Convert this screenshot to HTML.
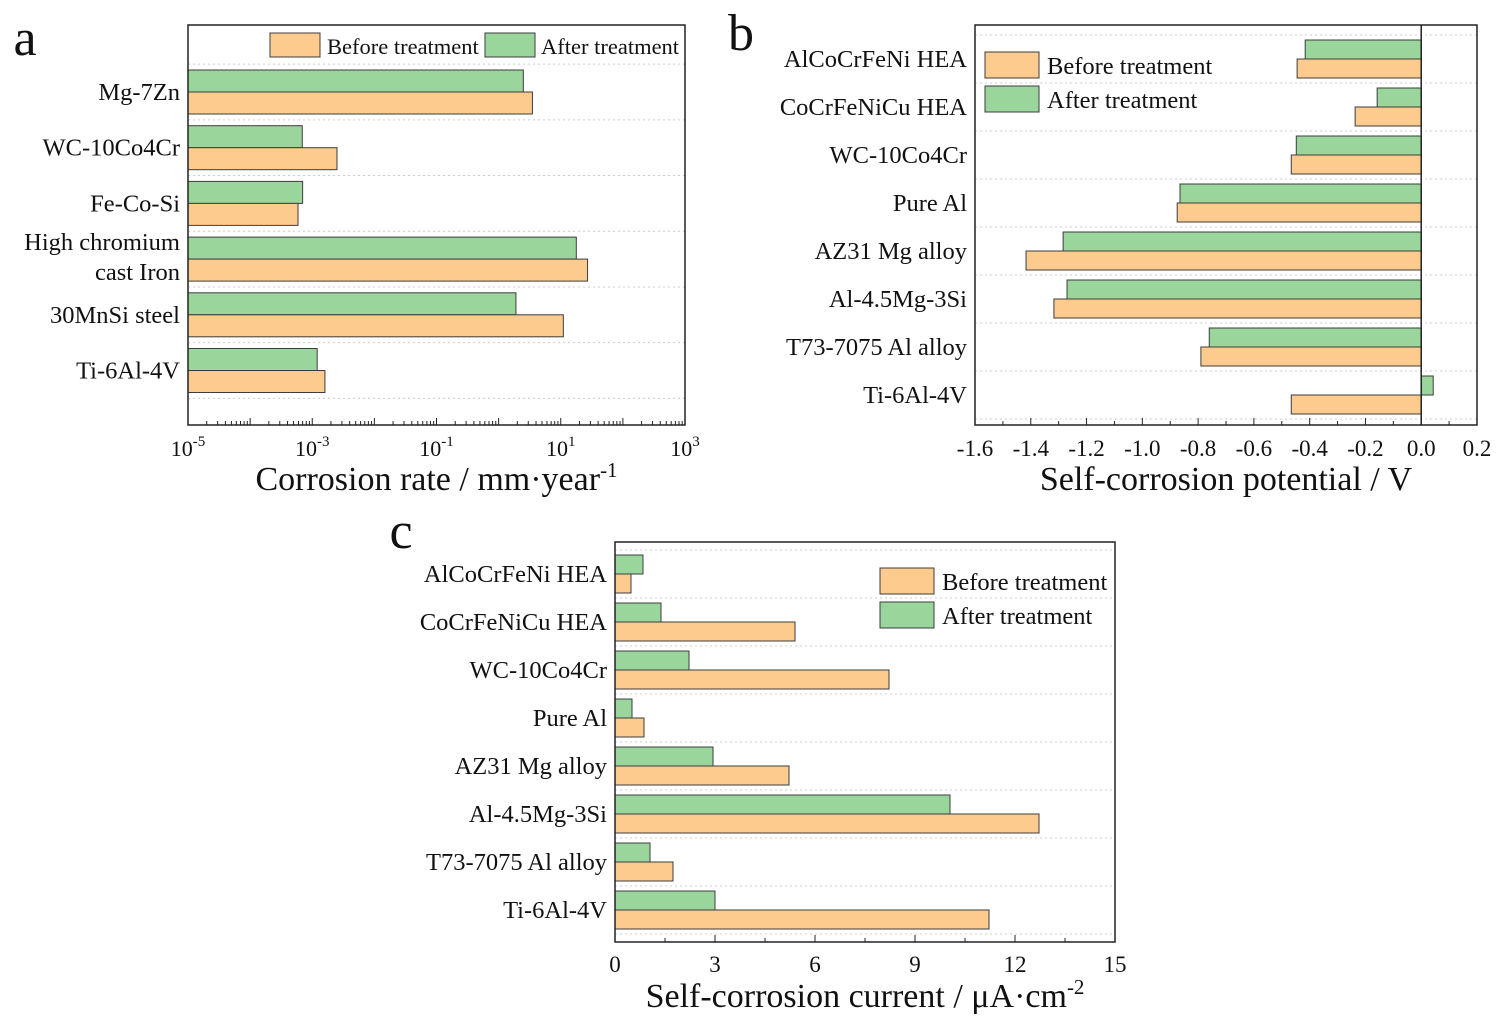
<!DOCTYPE html>
<html><head><meta charset="utf-8">
<style>
html,body{margin:0;padding:0;background:#fff;}
svg{display:block;font-family:"Liberation Serif",serif;}
</style></head>
<body>
<svg id="fig" width="1501" height="1021" viewBox="0 0 1501 1021" xmlns="http://www.w3.org/2000/svg"></svg>
<script>
// ---------- data ----------
const catsA = ["Mg-7Zn","WC-10Co4Cr","Fe-Co-Si","High chromium|cast Iron","30MnSi steel","Ti-6Al-4V"];
const beforeA = [3.5, 0.0025, 0.00059, 27, 11, 0.0016];
const afterA = [2.5, 0.00069, 0.0007, 17.8, 1.9, 0.0012];
const ticksA = [-5,-3,-1,1,3];

const catsB = ["AlCoCrFeNi HEA","CoCrFeNiCu HEA","WC-10Co4Cr","Pure Al","AZ31 Mg alloy","Al-4.5Mg-3Si","T73-7075 Al alloy","Ti-6Al-4V"];
const beforeB = [-0.445,-0.237,-0.466,-0.875,-1.417,-1.317,-0.79,-0.466];
const afterB = [-0.416,-0.158,-0.448,-0.865,-1.284,-1.27,-0.76,0.043];
const ticksB = ["-1.6","-1.4","-1.2","-1.0","-0.8","-0.6","-0.4","-0.2","0.0","0.2"];

const catsC = ["AlCoCrFeNi HEA","CoCrFeNiCu HEA","WC-10Co4Cr","Pure Al","AZ31 Mg alloy","Al-4.5Mg-3Si","T73-7075 Al alloy","Ti-6Al-4V"];
const beforeC = [0.48,5.4,8.22,0.87,5.22,12.72,1.74,11.22];
const afterC = [0.84,1.38,2.22,0.51,2.94,10.05,1.05,3.0];
const ticksC = ["0","3","6","9","12","15"];

const ORANGE="#fecb8e", GREEN="#9ad69b", STROKE="#3c3c3c";
const svg=document.getElementById('fig');
const NS="http://www.w3.org/2000/svg";
function mk(tag,attrs,parent){const e=document.createElementNS(NS,tag);for(const k in attrs)e.setAttribute(k,attrs[k]);(parent||svg).appendChild(e);return e;}
function txt(x,y,s,size,anchor,parent){const t=mk('text',{x:x,y:y,'font-size':size,'text-anchor':anchor||'start',fill:'#111'},parent);t.textContent=s;return t;}

function panel(o){
  const g=mk('g',{});
  
  
  const L=o.L,R=o.R,T=o.T,B=o.B;
  for(let i=0;i<=o.cats.length;i++){
    const y=o.y0+o.step*(i-0.5);
    if(y>T+2&&y<B-2){const l=mk('line',{x1:L,x2:R,y1:y,y2:y,stroke:'#ccc','stroke-dasharray':'2,3','stroke-width':1},g);
    }
  }
  o.cats.forEach((c,i)=>{
    const yc=o.y0+o.step*i;
    const x0=o.xs(o.base);
    [[o.after,GREEN,yc-o.bh,'after'],[o.before,ORANGE,yc,'before']].forEach(([arr,col,y,nm])=>{
      const x1=o.xs(arr[i]);
      const r=mk('rect',{x:Math.min(x0,x1),y:y,width:Math.abs(x1-x0),height:o.bh,fill:col,stroke:STROKE,'stroke-width':1},g);
      
      
    });
    const parts=c.split('|');
    if(parts.length==1){const t=txt(L-8,yc+8,parts[0],24.5,'end',g);}
    else parts.forEach((p,k)=>{const t=txt(L-8,yc-9+k*30,p,24.5,'end',g);});
  });
  if(o.zero!==undefined){const zl=mk('line',{x1:o.xs(0),x2:o.xs(0),y1:T,y2:B,stroke:'#222','stroke-width':1.5},g);}
  const fr=mk('rect',{x:L,y:T,width:R-L,height:B-T,fill:'none',stroke:'#222','stroke-width':1.5},g);
  
  o.ticks(g);
  const at=txt((L+R)/2,B+65,'',34,'middle',g);
  at.innerHTML=o.title;
  
  const pl=txt(o.letter[0],o.letter[1],o.letter[2],52,'middle',g);
  
  o.legend.forEach(([x,y,w,h,col,lab,tx,ty])=>{
    const r=mk('rect',{x:x,y:y,width:w,height:h,fill:col,stroke:STROKE,'stroke-width':1},g);
    
    const t=txt(tx,ty,lab,o.legFont,'start',g);
    
  });
}

// Panel A (log)
const aL=188,aR=685;
const xsA=v=>aL+(Math.log10(v)+5)*(aR-aL)/8;
panel({name:'panel-a',L:aL,R:aR,T:25,B:425,cats:catsA,before:beforeA,after:afterA,base:1e-5,xs:xsA,
  y0:92,step:55.7,bh:22,letter:[25,55,'a'],legFont:22.5,
  title:'Corrosion rate / mm·year<tspan dy="-13" font-size="21">-1</tspan>',
  legend:[[270,33,50,24,ORANGE,'Before treatment',327,54],[485,33,50,24,GREEN,'After treatment',541,54]],
  ticks:g=>{
    for(let d=-5;d<3;d++)for(let m=1;m<10;m++){
      const x=xsA(m*Math.pow(10,d));
      if(x<=aL+1) continue;
      mk('line',{x1:x,x2:x,y1:425,y2:425-(m==1?7:4),stroke:'#222','stroke-width':1},g);
    }
    ticksA.forEach(e=>{const t=txt(xsA(Math.pow(10,e)),456,'',22,'middle',g);t.innerHTML='10<tspan dy="-10" font-size="15">'+e+'</tspan>';
      });
  }});

// Panel B
const bL=975,bR=1477;
const xsB=v=>bL+(v+1.6)*(bR-bL)/1.8;
panel({name:'panel-b',L:bL,R:bR,T:25,B:425,cats:catsB,before:beforeB,after:afterB,base:0,zero:0,xs:xsB,
  y0:59,step:48,bh:19,letter:[741,50,'b'],legFont:24.5,
  title:'Self-corrosion potential / V',
  legend:[[985,52,54,26,ORANGE,'Before treatment',1047,74],[985,86,54,26,GREEN,'After treatment',1047,108]],
  ticks:g=>{
    for(let i=0;i<=18;i++){const x=xsB(-1.6+i*0.1);mk('line',{x1:x,x2:x,y1:425,y2:425-(i%2==0?7:4),stroke:'#222'},g);}
    ticksB.forEach(s=>{const t=txt(xsB(parseFloat(s)),456,s,23,'middle',g);});
  }});

// Panel C
const cL=615,cR=1115;
const xsC=v=>cL+v*(cR-cL)/15;
panel({name:'panel-c',L:cL,R:cR,T:542,B:942,cats:catsC,before:beforeC,after:afterC,base:0,xs:xsC,
  y0:574,step:48,bh:19,letter:[401,548,'c'],legFont:24.5,
  title:'Self-corrosion current / μA·cm<tspan dy="-13" font-size="21">-2</tspan>',
  legend:[[880,568,54,26,ORANGE,'Before treatment',942,590],[880,602,54,26,GREEN,'After treatment',942,624]],
  ticks:g=>{
    for(let i=0;i<=10;i++){const x=xsC(i*1.5);mk('line',{x1:x,x2:x,y1:942,y2:942-(i%2==0?7:4),stroke:'#222'},g);}
    ticksC.forEach(s=>{const t=txt(xsC(parseFloat(s)),972,s,23,'middle',g);});
  }});
</script>
</body></html>
